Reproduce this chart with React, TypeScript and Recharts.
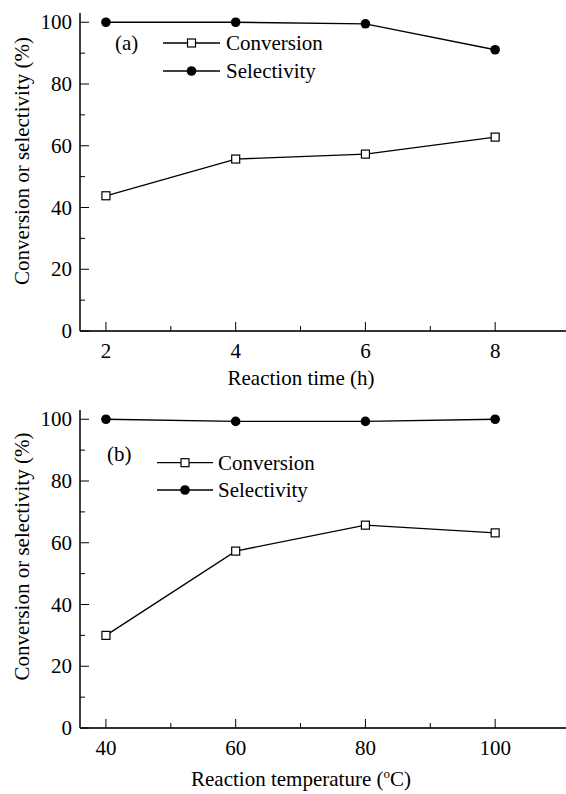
import React from 'react';
import { LineChart, Line, XAxis, YAxis, Legend, Label } from 'recharts';

// ---- Data ----
const timeCategories = [2, 4, 6, 8];
const timeConversion = [43.8, 55.7, 57.3, 62.8];
const timeSelectivity = [100, 100, 99.5, 91.1];

const tempCategories = [40, 60, 80, 100];
const tempConversion = [30.0, 57.3, 65.7, 63.2];
const tempSelectivity = [100, 99.3, 99.3, 100];

const timeTicks = [2, 3, 4, 5, 6, 7, 8];
const timeTickLabels = [2, 4, 6, 8];
const tempTicks = [40, 50, 60, 70, 80, 90, 100];
const tempTickLabels = [40, 60, 80, 100];
const yTicks = [0, 10, 20, 30, 40, 50, 60, 70, 80, 90, 100];
const yTickLabels = [0, 20, 40, 60, 80, 100];

const seriesNames = ['Conversion', 'Selectivity'];
const yTitle = 'Conversion or selectivity (%)';

const timeData = timeCategories.map((x, i) => ({ x, conversion: timeConversion[i], selectivity: timeSelectivity[i] }));
const tempData = tempCategories.map((x, i) => ({ x, conversion: tempConversion[i], selectivity: tempSelectivity[i] }));

const FONT = '"Liberation Serif", Tinos, "Times New Roman", "DejaVu Serif", serif';
const FS = 21;
const txtStyle = { fontFamily: FONT, fontSize: FS };

const makeXTick = (labels: number[]) => (props: any) => {
  const { x, y, payload } = props;
  const v = payload.value;
  const major = labels.includes(v);
  return (
    <g>
      <line x1={x} x2={x} y1={y} y2={y - (major ? 9 : 5)} stroke="#000" strokeWidth={1} />
      {major && (
        <text x={x} y={y + 27} textAnchor="middle" style={txtStyle} fill="#000">
          {v}
        </text>
      )}
    </g>
  );
};

const YTick = (props: any) => {
  const { x, y, payload } = props;
  const v = payload.value;
  const major = yTickLabels.includes(v);
  return (
    <g>
      <line x1={x} x2={x + (major ? 9 : 5)} y1={y} y2={y} stroke="#000" strokeWidth={1} />
      {major && (
        <text x={x - 8} y={y + 7} textAnchor="end" style={txtStyle} fill="#000">
          {v}
        </text>
      )}
    </g>
  );
};

const SquareDot = (props: any) => {
  const { cx, cy, index } = props;
  return <rect key={`sq-${index}`} x={cx - 4} y={cy - 4} width={8} height={8} fill="#fff" stroke="#000" strokeWidth={1.2} />;
};

type LegendGeom = { tag: string; tagX: number; tagY: number; y1: number; y2: number; lx1: number; lx2: number; tx: number };

const LegendBox = ({ g }: { g: LegendGeom }) => {
  const mx = (g.lx1 + g.lx2) / 2;
  return (
    <svg width={280} height={70} style={{ display: 'block', overflow: 'visible' }}>
      <text x={g.tagX} y={g.tagY} style={txtStyle} fill="#000">{g.tag}</text>
      <line x1={g.lx1} x2={g.lx2} y1={g.y1} y2={g.y1} stroke="#000" strokeWidth={1.3} />
      <rect x={mx - 4} y={g.y1 - 4} width={8} height={8} fill="#fff" stroke="#000" strokeWidth={1.2} />
      <text x={g.tx} y={g.y1 + 7} style={txtStyle} fill="#000">{seriesNames[0]}</text>
      <line x1={g.lx1} x2={g.lx2} y1={g.y2} y2={g.y2} stroke="#000" strokeWidth={1.3} />
      <circle cx={mx} cy={g.y2} r={4.8} fill="#000" />
      <text x={g.tx} y={g.y2 + 7} style={txtStyle} fill="#000">{seriesNames[1]}</text>
    </svg>
  );
};

type PanelProps = {
  data: any[];
  domain: [number, number];
  ticks: number[];
  tickLabels: number[];
  top: number;
  height: number;
  xAxisHeight: number;
  xTitle: React.ReactNode;
  xTitleX: number;
  xTitleY: number;
  yTitleY: number;
  legendLeft: number;
  legendTop: number;
  legend: LegendGeom;
};

const Panel = (p: PanelProps) => (
  <div style={{ position: 'absolute', left: 0, top: p.top }}>
    <LineChart width={573} height={p.height} data={p.data} margin={{ top: 13, right: 0, left: 0, bottom: 0 }}>
      <XAxis
        dataKey="x"
        type="number"
        domain={p.domain}
        allowDataOverflow
        ticks={p.ticks}
        interval={0}
        height={p.xAxisHeight}
        tickSize={0}
        tickMargin={0}
        tickLine={false}
        tick={makeXTick(p.tickLabels)}
        axisLine={{ stroke: '#333', strokeWidth: 2 }}
      >
        <Label
          content={() => (
            <text x={p.xTitleX} y={p.xTitleY} textAnchor="middle" style={txtStyle} fill="#000">
              {p.xTitle}
            </text>
          )}
        />
      </XAxis>
      <XAxis
        xAxisId="top"
        orientation="top"
        dataKey="x"
        type="number"
        domain={p.domain}
        allowDataOverflow
        height={0}
        tick={false}
        tickLine={false}
        axisLine={{ stroke: '#000', strokeWidth: 1.5 }}
      />
      <YAxis
        type="number"
        domain={[0, 103]}
        allowDataOverflow
        ticks={yTicks}
        interval={0}
        width={80}
        tickSize={0}
        tickMargin={0}
        tickLine={false}
        tick={YTick}
        axisLine={{ stroke: '#000', strokeWidth: 1.5 }}
      >
        <Label
          content={() => (
            <text
              x={29}
              y={p.yTitleY}
              transform={`rotate(-90 29 ${p.yTitleY})`}
              textAnchor="middle"
              style={txtStyle}
              fill="#000"
            >
              {yTitle}
            </text>
          )}
        />
      </YAxis>
      <Legend
        layout="vertical"
        align="center"
        verticalAlign="middle"
        content={() => <LegendBox g={p.legend} />}
        wrapperStyle={{ left: p.legendLeft, top: p.legendTop, width: 280, height: 70 }}
      />
      <Line
        dataKey="selectivity"
        stroke="#000"
        strokeWidth={1.3}
        dot={{ r: 4.8, fill: '#000', stroke: '#000', strokeWidth: 0 }}
        activeDot={false}
        isAnimationActive={false}
      />
      <Line
        dataKey="conversion"
        stroke="#000"
        strokeWidth={1.3}
        dot={SquareDot}
        activeDot={false}
        isAnimationActive={false}
      />
    </LineChart>
  </div>
);

export default function App() {
  return (
    <div
      style={{
        position: 'absolute',
        left: 0,
        top: 0,
        width: 566,
        height: 794,
        overflow: 'hidden',
        background: '#fff',
      }}
    >
      <Panel
        data={timeData}
        domain={[1.6, 9.2]}
        ticks={timeTicks}
        tickLabels={timeTickLabels}
        top={0}
        height={395}
        xAxisHeight={64}
        xTitle="Reaction time (h)"
        xTitleX={301}
        xTitleY={385}
        yTitleY={161}
        legendLeft={100}
        legendTop={25}
        legend={{ tag: '(a)', tagX: 15, tagY: 25, y1: 18, y2: 46, lx1: 63, lx2: 120, tx: 126 }}
      />
      <Panel
        data={tempData}
        domain={[36, 112]}
        ticks={tempTicks}
        tickLabels={tempTickLabels}
        top={397}
        height={397}
        xAxisHeight={66}
        xTitle={
          <>
            Reaction temperature (<tspan fontSize={13} dy={-8}>o</tspan>
            <tspan dy={8}>C)</tspan>
          </>
        }
        xTitleX={301}
        xTitleY={389}
        yTitleY={159.5}
        legendLeft={100}
        legendTop={40}
        legend={{ tag: '(b)', tagX: 7, tagY: 24, y1: 25.7, y2: 53, lx1: 57, lx2: 113, tx: 118 }}
      />
    </div>
  );
}
